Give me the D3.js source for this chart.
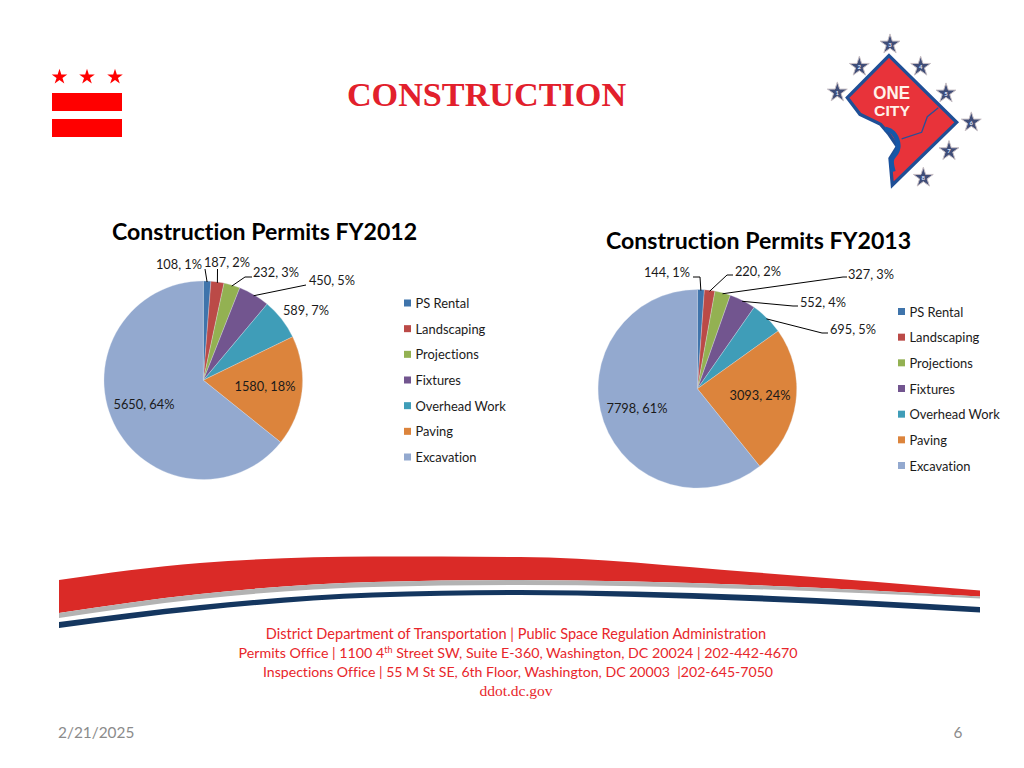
<!DOCTYPE html>
<html lang="en">
<head>
	<title>Construction</title>
	<meta charset="utf-8">
	<script src="https://d3js.org/d3.v7.min.js" charset="utf-8"></script>
</head>
<style>
	body { margin: 0; background: #fff; }
	svg { display: block; }
	text { font-family: Lato, "Open Sans", sans-serif; font-variant-ligatures: none; }
	.chartTitle { font-size: 23.1px; font-weight: 700; fill: #000; }
	.lbl { font-size: 12.8px; fill: #1a1a1a; }
	.legendText { font-size: 12.9px; fill: #1a1a1a; }
	.leader { fill: none; stroke: #000; stroke-width: 1; }
	.foot { font-size: 14.25px; fill: #e8262b; text-anchor: middle; white-space: pre; }
</style>
<body>
<svg id="slide" width="1024" height="768"></svg>
<script type="text/javascript">

// data
var categories = ['PS Rental', 'Landscaping', 'Projections', 'Fixtures', 'Overhead Work', 'Paving', 'Excavation'];
var permits2012 = [108, 187, 232, 450, 589, 1580, 5650];
var permits2013 = [144, 220, 327, 552, 695, 3093, 7798];
var percents2012 = [1, 2, 3, 5, 7, 18, 64];
var percents2013 = [1, 2, 3, 4, 5, 24, 61];
var sliceColors = ['#3f74ab', '#bb4a47', '#93b152', '#72558f', '#3f9db8', '#dc843c', '#93a9cf'];
var footerLines = [
	'District Department of Transportation | Public Space Regulation Administration',
	'Inspections Office | 55 M St SE, 6th Floor, Washington, DC 20003  |202-645-7050'
];

// label layout: [label centre x, label centre y], then optional leader bends
var layout2012 = [
	{at: [179, 264], bend: [[205, 269]]},
	{at: [227, 262], bend: [[217.5, 269]]},
	{at: [276, 272], bend: [[245, 277], [252, 277]]},
	{at: [332, 280], bend: [[306, 285]]},
	{at: [306, 310]},
	{at: [265, 386]},
	{at: [144, 404]}
];
var layout2013 = [
	{at: [667, 272], bend: [[700, 277], [693, 277]]},
	{at: [758, 271], bend: [[727, 275], [733, 275]]},
	{at: [871, 274], bend: [[843, 277], [847, 277]]},
	{at: [823, 302], bend: [[793, 306], [798, 306]]},
	{at: [853, 329], bend: [[822, 333], [828, 333]]},
	{at: [760, 395]},
	{at: [637, 408]}
];

var svg = d3.select('#slide');

function drawPie(opt) {
	var g = svg.append('g');
	var radius = 99.3;
	var pie = d3.pie().sort(null).value(function(d) { return d; });
	var arc = d3.arc().innerRadius(0).outerRadius(radius);
	var edge = d3.arc().innerRadius(radius - 1).outerRadius(radius - 1);
	var arcs = pie(opt.values);

	g.append('text').attr('class', 'chartTitle')
		.attr('x', opt.titleX).attr('y', opt.titleY).text(opt.title);

	var p = g.append('g').attr('transform', 'translate(' + opt.cx + ',' + opt.cy + ')');
	p.selectAll('path').data(arcs).enter().append('path')
		.attr('d', arc)
		.attr('fill', function(d, i) { return sliceColors[i]; })
		.attr('stroke', '#dfe6f0')
		.attr('stroke-width', 0.3);

	// leader lines start at the slice edge
	arcs.forEach(function(d, i) {
		var l = opt.layout[i];
		if (!l.bend) return;
		var c = edge.centroid(d);
		var pts = [[opt.cx + c[0], opt.cy + c[1]]].concat(l.bend);
		g.append('path').attr('class', 'leader').attr('d', d3.line()(pts));
	});

	g.selectAll('.lbl').data(opt.values).enter().append('text')
		.attr('class', 'lbl')
		.attr('text-anchor', 'middle')
		.attr('dominant-baseline', 'central')
		.attr('x', function(d, i) { return opt.layout[i].at[0]; })
		.attr('y', function(d, i) { return opt.layout[i].at[1]; })
		.text(function(d, i) { return d + ', ' + opt.percents[i] + '%'; });

	var y = d3.scalePoint().domain(categories).range([opt.legendTop, opt.legendBottom]);
	var items = g.selectAll('.legendItem').data(categories).enter().append('g')
		.attr('class', 'legendItem')
		.attr('transform', function(d) { return 'translate(' + opt.legendX + ',' + y(d) + ')'; });
	items.append('rect').attr('x', 0).attr('y', -3.5).attr('width', 7).attr('height', 7)
		.attr('fill', function(d, i) { return sliceColors[i]; });
	items.append('text').attr('class', 'legendText').attr('x', 11.5)
		.attr('dominant-baseline', 'central')
		.text(function(d) { return d; });
}

drawPie({title: 'Construction Permits FY2012', titleX: 112, titleY: 240, cx: 203.3, cy: 380.2,
	values: permits2012, percents: percents2012, layout: layout2012,
	legendX: 404, legendTop: 303, legendBottom: 457});
drawPie({title: 'Construction Permits FY2013', titleX: 606, titleY: 249, cx: 697.4, cy: 388.8,
	values: permits2013, percents: percents2013, layout: layout2013,
	legendX: 898, legendTop: 311.5, legendBottom: 465.5});

// slide title
svg.append('text').attr('x', 486.5).attr('y', 106).attr('text-anchor', 'middle')
	.style('font-family', '"Liberation Serif", serif')
	.style('font-size', '34.2px').style('font-weight', 700).attr('fill', '#e2202c')
	.text('CONSTRUCTION');

// DC flag
var flag = svg.append('g').attr('fill', '#ff0000');
[59.5, 87, 115].forEach(function(x) {
	flag.append('path').attr('transform', 'translate(' + x + ',77)')
		.attr('d', d3.symbol().type(d3.symbolStar).size(75)());
});
flag.append('rect').attr('x', 52).attr('y', 93).attr('width', 70).attr('height', 18);
flag.append('rect').attr('x', 52).attr('y', 119).attr('width', 70).attr('height', 18);

// One City logo, drawn in the coordinates of a 190x170 crop
var logo = svg.append('g').attr('transform', 'translate(810,25) scale(0.3333)');
var outline = [[237, 92], [440, 292], [247, 480], [240, 400], [262, 365], [235, 325], [212, 298], [150, 268], [112, 218]];
logo.append('path').attr('d', d3.line()(outline) + 'Z')
	.attr('fill', '#e8333a').attr('stroke', '#1f4f96').attr('stroke-width', 10).attr('stroke-linejoin', 'miter');
logo.append('path').attr('d', d3.line().curve(d3.curveBasis)([[225, 312], [250, 318], [268, 355], [262, 385], [240, 400], [250, 440]]))
	.attr('fill', 'none').attr('stroke', '#1557a8').attr('stroke-width', 14);
logo.append('path').attr('d', d3.line()([[275, 342], [335, 322], [352, 275], [385, 248]]))
	.attr('fill', 'none').attr('stroke', '#2c4f96').attr('stroke-width', 4);
logo.append('text').attr('x', 245).attr('y', 222).attr('text-anchor', 'middle')
	.attr('textLength', 110).attr('lengthAdjust', 'spacingAndGlyphs')
	.style('font-family', '"Liberation Sans", sans-serif').style('font-weight', 700).style('font-size', '55px')
	.attr('fill', '#fff3ea').text('ONE');
logo.append('text').attr('x', 246).attr('y', 274).attr('text-anchor', 'middle')
	.attr('textLength', 108).attr('lengthAdjust', 'spacingAndGlyphs')
	.style('font-family', '"Liberation Sans", sans-serif').style('font-weight', 700).style('font-size', '45px')
	.attr('fill', '#fff3ea').text('CITY');
var logoStars = [[82, 202], [148, 125], [240, 58], [332, 125], [408, 205], [484, 292], [417, 378], [340, 458]];
logoStars.forEach(function(s, i) {
	logo.append('path').attr('transform', 'translate(' + s[0] + ',' + s[1] + ')')
		.attr('d', d3.symbol().type(d3.symbolStar).size(1100)())
		.attr('fill', '#3f4d78').attr('stroke', '#c8bfc4').attr('stroke-width', 3);
	logo.append('text').attr('x', s[0]).attr('y', s[1] + 7).attr('text-anchor', 'middle')
		.style('font-size', '18px').style('font-weight', 700).attr('fill', '#dfe6ff').text(i + 1);
});

// swoosh bands, top edge then bottom edge
var curve = d3.line().curve(d3.curveMonotoneX);
function band(top, bottom, color) {
	svg.append('path')
		.attr('d', curve(top) + 'L' + curve(bottom.slice().reverse()).slice(1) + 'Z')
		.attr('fill', color);
}
band([[59, 580], [200, 563], [373, 556.5], [520, 557], [750, 572], [980, 590.5]],
	[[59, 613], [200, 594], [373, 582], [520, 580], [750, 585], [980, 596.5]], '#da2a27');
band([[59, 613], [200, 594], [373, 582], [520, 580], [750, 585], [980, 596.5]],
	[[59, 618], [200, 599], [373, 587], [520, 585], [750, 589], [980, 598.5]], '#b3b3b3');
band([[59, 622], [200, 605], [373, 592.5], [520, 590], [750, 595], [980, 607]],
	[[59, 628], [200, 610.5], [373, 597.5], [520, 595], [750, 601], [980, 612.5]], '#14365f');

// footer
svg.append('text').attr('class', 'foot').attr('x', 516).attr('y', 639).style('font-size', '14.55px').text(footerLines[0]);
var permitsLine = svg.append('text').attr('class', 'foot').attr('x', 518).attr('y', 658);
permitsLine.append('tspan').text('Permits Office | 1100 4');
permitsLine.append('tspan').attr('dy', -5).style('font-size', '9px').text('th');
permitsLine.append('tspan').attr('dy', 5).text(' Street SW, Suite E-360, Washington, DC 20024 | 202-442-4670');
svg.append('text').attr('class', 'foot').attr('x', 518).attr('y', 677).style('font-size', '14.1px').text(footerLines[1]);
svg.append('text').attr('class', 'foot').attr('x', 516).attr('y', 696)
	.style('font-family', '"Liberation Serif", serif').style('font-size', '15.5px').text('ddot.dc.gov');

svg.append('text').attr('x', 58).attr('y', 738).attr('fill', '#8b8b8b').style('font-size', '15.4px').text('2/21/2025');
svg.append('text').attr('x', 958).attr('y', 738).attr('text-anchor', 'middle').attr('fill', '#8b8b8b').style('font-size', '15.4px').text('6');

</script>
</body>
</html>
